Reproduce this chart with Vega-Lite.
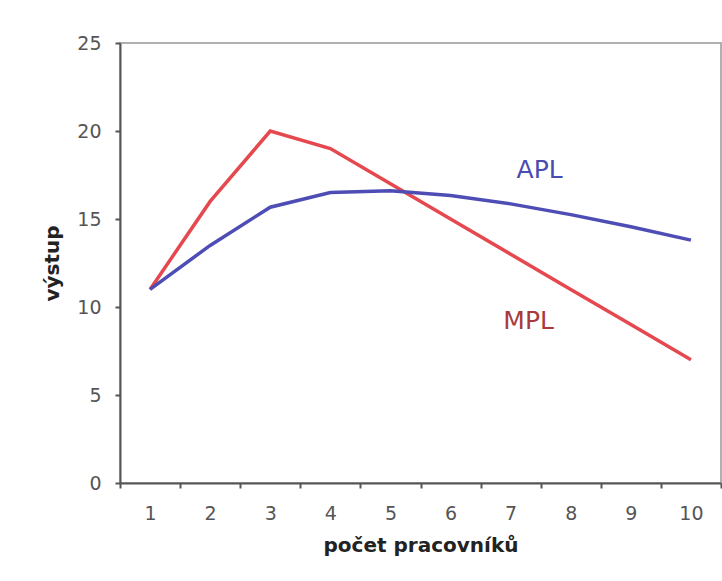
{
  "$schema": "https://vega.github.io/schema/vega-lite/v6.json",
  "width": 601,
  "height": 440,
  "autosize": "none",
  "padding": {"left": 120, "top": 43, "right": 1, "bottom": 98},
  "background": "white",
  "config": {
    "view": {"stroke": "#b0b0b0", "strokeWidth": 2},
    "font": "DejaVu Sans"
  },
  "datasets": {
    "curves": [
      {"n": 1, "series": "MPL", "value": 11},
      {"n": 2, "series": "MPL", "value": 16},
      {"n": 3, "series": "MPL", "value": 20},
      {"n": 4, "series": "MPL", "value": 19},
      {"n": 5, "series": "MPL", "value": 17},
      {"n": 6, "series": "MPL", "value": 15},
      {"n": 7, "series": "MPL", "value": 13},
      {"n": 8, "series": "MPL", "value": 11},
      {"n": 9, "series": "MPL", "value": 9},
      {"n": 10, "series": "MPL", "value": 7},
      {"n": 1, "series": "APL", "value": 11},
      {"n": 2, "series": "APL", "value": 13.5},
      {"n": 3, "series": "APL", "value": 15.67},
      {"n": 4, "series": "APL", "value": 16.5},
      {"n": 5, "series": "APL", "value": 16.6},
      {"n": 6, "series": "APL", "value": 16.33},
      {"n": 7, "series": "APL", "value": 15.86},
      {"n": 8, "series": "APL", "value": 15.25},
      {"n": 9, "series": "APL", "value": 14.56},
      {"n": 10, "series": "APL", "value": 13.8}
    ],
    "labels": [
      {"n": 7, "label": "APL", "value": 17.8},
      {"n": 7, "label": "MPL", "value": 9.2}
    ]
  },
  "encoding": {
    "x": {
      "field": "n",
      "type": "ordinal",
      "bandPosition": 0.5,
      "scale": {"type": "band", "paddingInner": 0, "paddingOuter": 0},
      "axis": {
        "title": "počet pracovníků",
        "labelAngle": 0,
        "tickBand": "extent",
        "domainColor": "#555555",
        "domainWidth": 2,
        "tickColor": "#555555",
        "tickWidth": 2,
        "tickSize": 5,
        "labelPadding": 16,
        "labelFontSize": 19,
        "labelColor": "#555555",
        "titleFontSize": 20,
        "titleFontWeight": "bold",
        "titleColor": "#222222",
        "titlePadding": 12
      }
    },
    "y": {
      "field": "value",
      "type": "quantitative",
      "scale": {"domain": [0, 25], "nice": false, "zero": true},
      "axis": {
        "title": "výstup",
        "values": [0, 5, 10, 15, 20, 25],
        "grid": false,
        "domainColor": "#555555",
        "domainWidth": 2,
        "tickColor": "#555555",
        "tickWidth": 2,
        "tickSize": 5,
        "labelPadding": 14,
        "labelFontSize": 19,
        "labelColor": "#555555",
        "titleFontSize": 20,
        "titleFontWeight": "bold",
        "titleColor": "#222222",
        "titlePadding": 14
      }
    }
  },
  "layer": [
    {
      "data": {"name": "curves"},
      "transform": [{"filter": "datum.series === 'MPL'"}],
      "mark": {"type": "line", "color": "#e5484e", "strokeWidth": 3.5, "clip": true}
    },
    {
      "data": {"name": "curves"},
      "transform": [{"filter": "datum.series === 'APL'"}],
      "mark": {"type": "line", "color": "#4d4db5", "strokeWidth": 3.5, "clip": true}
    },
    {
      "data": {"name": "labels"},
      "transform": [{"filter": "datum.label === 'APL'"}],
      "mark": {"type": "text", "color": "#4a4ab3", "fontSize": 25, "dx": 29},
      "encoding": {"text": {"field": "label"}}
    },
    {
      "data": {"name": "labels"},
      "transform": [{"filter": "datum.label === 'MPL'"}],
      "mark": {"type": "text", "color": "#a83a3c", "fontSize": 25, "dx": 18},
      "encoding": {"text": {"field": "label"}}
    }
  ]
}
